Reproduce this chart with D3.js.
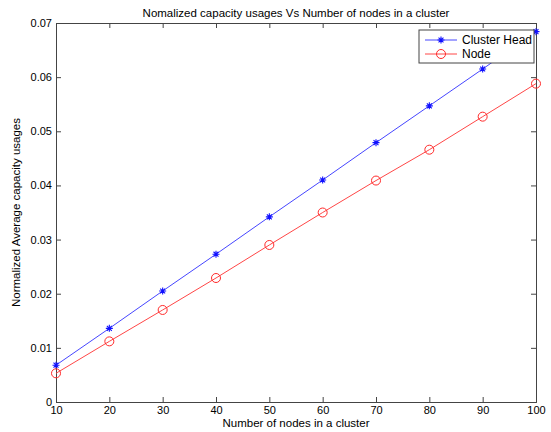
<!DOCTYPE html>
<html>
<head>
<meta charset="utf-8">
<script src="https://cdn.jsdelivr.net/npm/d3@7"></script>
<style>
  body { margin: 0; background: #fff; }
  svg text { font-family: "Liberation Sans", Arial, sans-serif; fill: #000; }
</style>
</head>
<body>
<div id="chart"></div>
<script>
var nodes = [10, 20, 30, 40, 50, 60, 70, 80, 90, 100];
var clusterHead = [0.0068, 0.0136, 0.0205, 0.0273, 0.0342, 0.0410, 0.0479, 0.0547, 0.0615, 0.0684];
var nodeUsage = [0.0053, 0.0112, 0.0170, 0.0229, 0.0290, 0.0350, 0.0409, 0.0466, 0.0527, 0.0588];
var xTicks = [10, 20, 30, 40, 50, 60, 70, 80, 90, 100];
var yTicks = [0, 0.01, 0.02, 0.03, 0.04, 0.05, 0.06, 0.07];

var W = 551, H = 432;
var margin = {top: 23, right: 15, bottom: 30, left: 56};
var width = W - margin.left - margin.right;
var height = H - margin.top - margin.bottom;

var svg = d3.select("#chart")
    .append("svg")
    .attr("width", W)
    .attr("height", H);

var g = svg.append("g")
    .attr("transform", "translate(" + margin.left + "," + margin.top + ")");

var x = d3.scaleLinear().domain([10, 100]).range([0, width]);
var y = d3.scaleLinear().domain([0, 0.07]).range([height, 0]);

// axes, ticks inward like matlab
var fmtY = function (d) { return d === 0 ? "0" : d3.format(".2f")(d); };

g.append("g")
    .attr("class", "axis")
    .attr("transform", "translate(0," + height + ")")
    .call(d3.axisBottom(x).tickValues(xTicks).tickSize(-5).tickPadding(4));

g.append("g")
    .attr("class", "axis")
    .call(d3.axisTop(x).tickValues(xTicks).tickSize(-5).tickFormat(""));

g.append("g")
    .attr("class", "axis")
    .call(d3.axisLeft(y).tickValues(yTicks).tickSize(-5).tickPadding(4).tickFormat(fmtY));

g.append("g")
    .attr("class", "axis")
    .attr("transform", "translate(" + width + ",0)")
    .call(d3.axisRight(y).tickValues(yTicks).tickSize(-5).tickFormat(""));

g.selectAll(".axis path").attr("stroke", "#444");
g.selectAll(".axis line").attr("stroke", "#444");
g.selectAll(".axis text").style("font-size", "11px").attr("fill", "#000");

// series lines
var line = d3.line()
    .x(function (d, i) { return x(nodes[i]); })
    .y(function (d) { return y(d); });

g.append("path")
    .datum(clusterHead)
    .attr("fill", "none")
    .attr("stroke", "#4646ff")
    .attr("stroke-width", 1)
    .attr("d", line);

g.append("path")
    .datum(nodeUsage)
    .attr("fill", "none")
    .attr("stroke", "#ff4646")
    .attr("stroke-width", 1)
    .attr("d", line);

// star markers
function star(sel, cx, cy, s) {
    var p = "M" + (cx - s) + "," + cy + "L" + (cx + s) + "," + cy +
        "M" + cx + "," + (cy - s) + "L" + cx + "," + (cy + s) +
        "M" + (cx - s * 0.7) + "," + (cy - s * 0.7) + "L" + (cx + s * 0.7) + "," + (cy + s * 0.7) +
        "M" + (cx - s * 0.7) + "," + (cy + s * 0.7) + "L" + (cx + s * 0.7) + "," + (cy - s * 0.7);
    sel.append("path").attr("d", p).attr("stroke", "#1010ff").attr("stroke-width", 1.1).attr("fill", "none");
}

clusterHead.forEach(function (d, i) {
    star(g, x(nodes[i]), y(d), 3.5);
});

g.selectAll("circle.node")
    .data(nodeUsage)
    .enter()
    .append("circle")
    .attr("class", "node")
    .attr("cx", function (d, i) { return x(nodes[i]); })
    .attr("cy", function (d) { return y(d); })
    .attr("r", 4.5)
    .attr("fill", "none")
    .attr("stroke", "#ff2a2a")
    .attr("stroke-width", 1);

// legend
var lg = svg.append("g").attr("transform", "translate(419,30)");
lg.append("rect")
    .attr("width", 115)
    .attr("height", 33)
    .attr("fill", "#fff")
    .attr("stroke", "#444")
    .attr("stroke-width", 1);
lg.append("line").attr("x1", 6).attr("x2", 38).attr("y1", 10).attr("y2", 10)
    .attr("stroke", "#4646ff").attr("stroke-width", 1);
star(lg, 22, 10, 3.5);
lg.append("line").attr("x1", 6).attr("x2", 38).attr("y1", 24).attr("y2", 24)
    .attr("stroke", "#ff4646").attr("stroke-width", 1);
lg.append("circle").attr("cx", 22).attr("cy", 24).attr("r", 4.5)
    .attr("fill", "none").attr("stroke", "#ff2a2a");
lg.append("text").attr("x", 43).attr("y", 14).style("font-size", "12px").text("Cluster Head");
lg.append("text").attr("x", 43).attr("y", 28).style("font-size", "12px").text("Node");

// title and axis labels
svg.append("text")
    .attr("x", margin.left + width / 2)
    .attr("y", 17)
    .style("text-anchor", "middle")
    .style("font-size", "11.5px")
    .text("Nomalized capacity usages Vs Number of nodes in a cluster");

svg.append("text")
    .attr("x", margin.left + width / 2)
    .attr("y", 427)
    .style("text-anchor", "middle")
    .style("font-size", "11.5px")
    .text("Number of nodes in a cluster");

svg.append("text")
    .attr("transform", "translate(20," + (margin.top + height / 2) + ") rotate(-90)")
    .style("text-anchor", "middle")
    .style("font-size", "11.5px")
    .text("Normalized Average capacity usages");
</script>
</body>
</html>
